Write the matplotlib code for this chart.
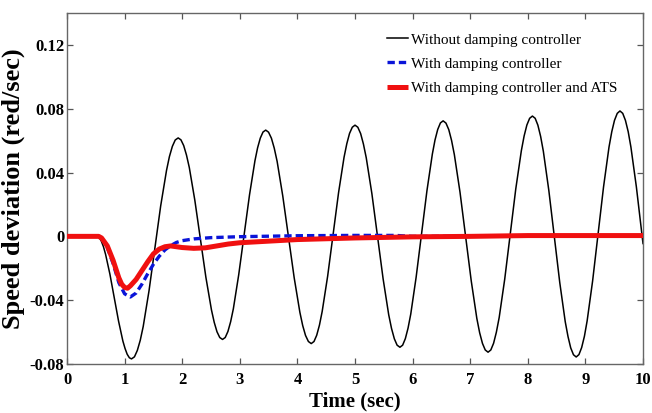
import matplotlib
matplotlib.use("Agg")
import matplotlib.pyplot as plt

# ---- data ----
t_black = [0.0, 0.52, 0.558, 0.595, 0.633, 0.67, 0.745, 0.82, 0.895, 0.97, 1.008, 1.045, 1.083,
           1.12, 1.171, 1.221, 1.272, 1.323, 1.424, 1.525, 1.626, 1.728, 1.778, 1.829, 1.879,
           1.93, 1.978, 2.026, 2.074, 2.123, 2.219, 2.315, 2.411, 2.508, 2.556, 2.604, 2.652,
           2.70, 2.747, 2.794, 2.841, 2.888, 2.981, 3.075, 3.169, 3.263, 3.309, 3.356, 3.403,
           3.45, 3.499, 3.549, 3.598, 3.648, 3.746, 3.845, 3.944, 4.043, 4.092, 4.141, 4.191,
           4.24, 4.288, 4.335, 4.383, 4.43, 4.525, 4.62, 4.715, 4.81, 4.858, 4.905, 4.953,
           5.0, 5.049, 5.098, 5.146, 5.195, 5.293, 5.39, 5.488, 5.585, 5.634, 5.683, 5.731,
           5.78, 5.827, 5.874, 5.921, 5.968, 6.061, 6.155, 6.249, 6.343, 6.389, 6.436, 6.483,
           6.53, 6.579, 6.628, 6.676, 6.725, 6.823, 6.92, 7.018, 7.115, 7.164, 7.213, 7.261,
           7.31, 7.358, 7.406, 7.454, 7.503, 7.599, 7.695, 7.791, 7.888, 7.936, 7.984, 8.032,
           8.08, 8.128, 8.175, 8.223, 8.27, 8.365, 8.46, 8.555, 8.65, 8.698, 8.745, 8.793,
           8.84, 8.888, 8.935, 8.983, 9.03, 9.125, 9.22, 9.315, 9.41, 9.458, 9.505, 9.553,
           9.60, 9.648, 9.695, 9.743, 9.79, 9.885, 9.98, 10.0]
v_black = [0.0, 0.0, -0.0007, -0.0029, -0.0065, -0.0113, -0.0237, -0.0384, -0.0531, -0.0656,
           -0.0703, -0.0739, -0.0761,
           -0.0768, -0.0755, -0.0715, -0.0651, -0.0565, -0.0341, -0.0076, 0.0190, 0.0414,
           0.0500, 0.0564, 0.0604,
           0.0617, 0.0605, 0.0569, 0.0510, 0.0432, 0.0227, -0.0015, -0.0256, -0.0461, -0.0539,
           -0.0598, -0.0634,
           -0.0646, -0.0634, -0.0596, -0.0535, -0.0454, -0.0241, 0.0010, 0.0261, 0.0474,
           0.0555, 0.0616, 0.0654,
           0.0666, 0.0653, 0.0615, 0.0553, 0.0470, 0.0253, -0.0003, -0.0259, -0.0476, -0.0559,
           -0.0621, -0.0659,
           -0.0672, -0.0659, -0.0620, -0.0556, -0.0471, -0.0250, 0.0013, 0.0275, 0.0496,
           0.0581, 0.0645, 0.0684,
           0.0697, 0.0684, 0.0644, 0.0579, 0.0493, 0.0268, 0.0001, -0.0266, -0.0491, -0.0577,
           -0.0642, -0.0682,
           -0.0695, -0.0682, -0.0641, -0.0575, -0.0487, -0.0257, 0.0015, 0.0286, 0.0516,
           0.0604, 0.0670, 0.0711,
           0.0724, 0.0710, 0.0669, 0.0602, 0.0512, 0.0277, -0.0001, -0.0279, -0.0514, -0.0604,
           -0.0671, -0.0712,
           -0.0726, -0.0712, -0.0670, -0.0601, -0.0509, -0.0269, 0.0014, 0.0297, 0.0537,
           0.0629, 0.0698, 0.0740,
           0.0754, 0.0740, 0.0697, 0.0626, 0.0533, 0.0288, -0.0001, -0.0290, -0.0535, -0.0628,
           -0.0699, -0.0742,
           -0.0756, -0.0741, -0.0697, -0.0626, -0.0530, -0.0280, 0.0015, 0.0310, 0.0560,
           0.0656, 0.0727, 0.0771,
           0.0786, 0.0771, 0.0727, 0.0656, 0.0560, 0.0310, 0.0015, -0.0045]

t_blue = [0.0, 0.55, 0.6, 0.7, 0.8, 0.9, 1.0, 1.1, 1.2, 1.3, 1.4, 1.5, 1.6, 1.7, 1.8, 1.9, 2.0,
          2.2, 2.5, 3.0, 4.0, 5.0, 5.7, 6.0, 10.0]
v_blue = [0.0, 0.0, -0.001, -0.007, -0.017, -0.029, -0.036, -0.038, -0.0355, -0.030, -0.0235,
          -0.0175, -0.0125, -0.0085, -0.0058, -0.0038, -0.0027, -0.0016, -0.0008, -0.0002,
          0.0004, 0.0006, 0.0006, 0.0, 0.0003]

t_red = [0.0, 0.55, 0.6, 0.7, 0.8, 0.9, 0.95, 1.0, 1.05, 1.1, 1.2, 1.3, 1.4, 1.5, 1.6, 1.7, 1.8,
         1.9, 2.0, 2.2, 2.4, 2.6, 2.8, 3.0, 3.5, 4.0, 5.0, 6.0, 7.0, 8.0, 10.0]
v_red = [0.0, 0.0, -0.001, -0.006, -0.015, -0.026, -0.030, -0.032, -0.0325, -0.031, -0.027,
         -0.0215, -0.016, -0.011, -0.008, -0.0065, -0.006, -0.0065, -0.007, -0.0075, -0.0072,
         -0.006, -0.0048, -0.004, -0.003, -0.002, -0.001, -0.0003, 0.0, 0.0005, 0.0005]

labels = ["Without damping controller", "With damping controller",
          "With damping controller and ATS"]
xticks = [0, 1, 2, 3, 4, 5, 6, 7, 8, 9, 10]
yticks = [-0.08, -0.04, 0, 0.04, 0.08, 0.12]
yticklabels = ["-0.08", "-0.04", "0", "0.04", "0.08", "0.12"]

serif = ["Liberation Serif", "DejaVu Serif"]

fig = plt.figure(figsize=(6.52, 4.13), dpi=100)
ax = fig.add_axes([67 / 652, 1 - 364 / 413, (643 - 67) / 652, (364 - 13) / 413])

ax.plot(t_black, v_black, color="black", lw=1.1, label=labels[0], zorder=2)
ax.plot(t_blue, v_blue, color="#0a14d8", lw=2.4, ls=(0, (2.2, 1.2)), label=labels[1], zorder=3)
ax.plot(t_red, v_red, color="#f01010", lw=3.6, label=labels[2], zorder=4,
        solid_capstyle="butt")

ax.set_xlim(0, 10)
ax.set_ylim(-0.08, 0.14)
ax.set_xticks(xticks)
ax.set_xticklabels([str(x) for x in xticks], fontfamily=serif, fontweight="bold", fontsize=12)
ax.set_yticks(yticks)
ax.set_yticklabels(yticklabels, fontfamily=serif, fontweight="bold", fontsize=12)
ax.tick_params(direction="in", length=4, width=0.9, top=True, right=True, color="#555555")
ax.tick_params(axis="y", pad=2)
ax.tick_params(axis="x", pad=6)

for s in ax.spines.values():
    s.set_color("#666666")
    s.set_linewidth(1.0)

ax.set_xlabel("Time (sec)", fontfamily=serif, fontweight="bold", fontsize=15, labelpad=2)
ax.set_ylabel("Speed deviation (red/sec)", fontfamily=serif, fontweight="bold", fontsize=19,
              labelpad=3)

leg = ax.legend(loc="upper right", bbox_to_anchor=(0.955, 0.943), frameon=False,
                prop={"family": serif, "size": 11}, handlelength=1.37, handletextpad=0.2,
                labelspacing=0.68, borderaxespad=0.0, borderpad=0.0)

fig.savefig("out.png", dpi=100)
